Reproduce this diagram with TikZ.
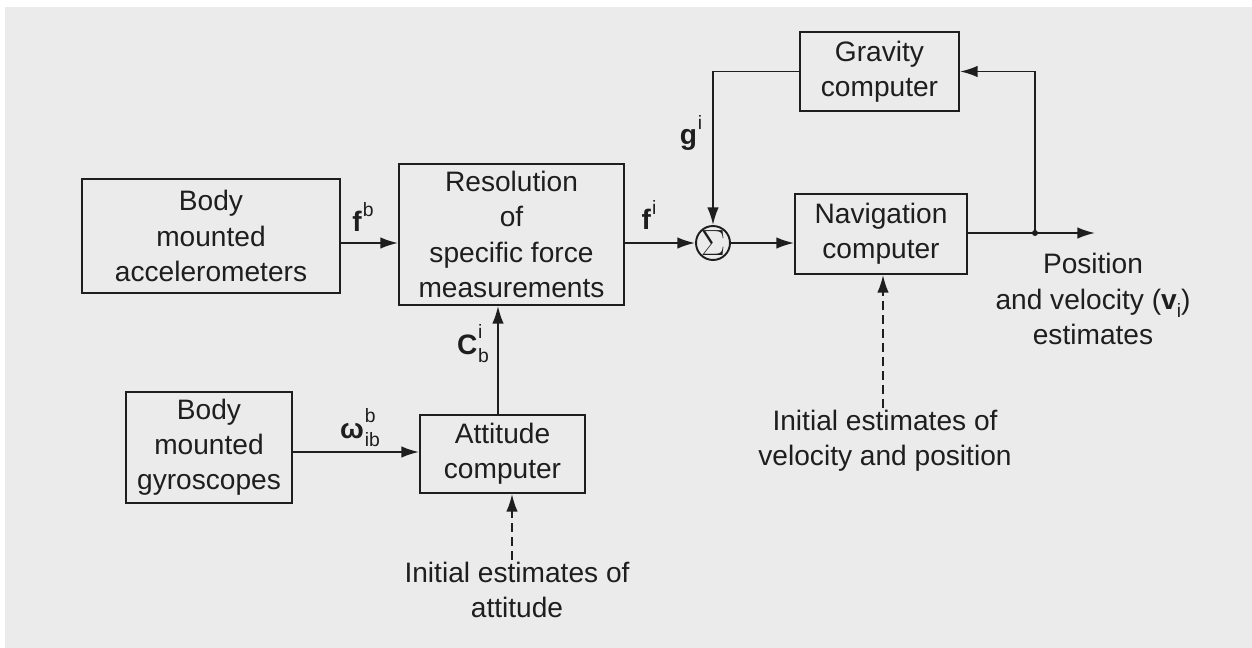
\documentclass[tikz,border=0pt]{standalone}
\usepackage{fontspec}
\setmainfont{Liberation Sans}
\usetikzlibrary{arrows.meta}

\definecolor{paper}{HTML}{EBEBEB}
\definecolor{ink}{HTML}{1E1E1E}

% bold symbol with a superscript, and with both super- and subscript
\newcommand\supidx[2]{\textbf{#1}\kern0.5pt\raisebox{0.5em}{\fontsize{11}{11}\selectfont #2}}
\newcommand\bothidx[3]{\textbf{#1}\kern0.5pt\rlap{\raisebox{0.55em}{\fontsize{11}{11}\selectfont #2}}\raisebox{-0.3em}{\fontsize{11}{11}\selectfont #3}}

\begin{document}
\begin{tikzpicture}[x=0.02cm,y=-0.02cm,
  every node/.style={text=ink},
  blk/.style={draw=ink, line width=1.1pt, inner sep=0pt, align=center,
              font=\fontsize{16}{20}\selectfont},
  lbl/.style={inner sep=1pt, font=\fontsize{16}{20}\selectfont},
  note/.style={align=center, inner sep=1pt, font=\fontsize{16}{20}\selectfont},
  arr/.style={draw=ink, line width=1.1pt, -{Latex[length=10pt,width=6.5pt]}},
  dasharr/.style={arr, dash pattern=on 5pt off 3pt}]

% page
\useasboundingbox (0,0) rectangle (1252,648);
\fill[white] (0,0) rectangle (1252,648);
\fill[paper] (5,7) rectangle (1252,648);

% blocks
\node[blk, minimum width=5.16cm, minimum height=2.28cm] (acc) at (211,236)
  {Body\\mounted\\accelerometers};
\node[blk, minimum width=4.5cm, minimum height=2.82cm] (res) at (511.5,234.5)
  {Resolution\\of\\specific force\\measurements};
\node[blk, minimum width=3.18cm, minimum height=1.58cm] (grav) at (879.5,71.5)
  {Gravity\\computer};
\node[blk, minimum width=3.44cm, minimum height=1.6cm] (nav) at (881,234)
  {Navigation\\computer};
\node[blk, minimum width=3.32cm, minimum height=2.22cm] (gyro) at (209,447.5)
  {Body\\mounted\\gyroscopes};
\node[blk, minimum width=3.3cm, minimum height=1.56cm] (att) at (502.5,454)
  {Attitude\\computer};
% summing junction: fixed size circle with the sigma set on top of it
\node[draw=ink, line width=1.1pt, circle, minimum size=0.68cm, inner sep=0pt] (sum) at (713,243) {};
\node[inner sep=0pt, font=\fontsize{20}{20}\selectfont] (sig) at (sum.center) {$\Sigma$};

% free texts
\node[note] (ia) at (517,590) {Initial estimates of\\attitude};
\node[note] (iv) at (885,441) {Initial estimates of\\velocity and position};
\node[note] (pv) at (1093,299)
  {Position\\and velocity (\textbf{v}\raisebox{-0.3em}{\fontsize{11}{11}\selectfont i})\\estimates};

% signal labels
\node[lbl] (lfb) at (363,217) {\supidx{f}{b}};
\node[lbl] (lfi) at (649,215) {\supidx{f}{i}};
\node[lbl] (lgi) at (691,133) {\supidx{g}{i}};
\node[lbl] (lcb) at (473,344) {\bothidx{C}{i}{b}};
\node[lbl] (lw)  at (360,428) {\bothidx{ω}{b}{ib}};

% output branch points
\coordinate (j) at (1035,233);
\coordinate (out) at (1095,233);

% connectors
\draw[arr] (acc.east |- sum) -- (res.west |- sum);
\draw[arr] (res.east |- sum) -- (sum.west);
\draw[arr] (sum.east) -- (nav.west |- sum);
\draw[arr] (grav.west) -- (sum.center |- grav.west) -- (sum.north);
\draw[arr] (nav.east |- j) -- (out);
\draw[arr] (j) -- (j |- grav.east) -- (grav.east);
\fill[ink] (j) circle (3);
\draw[arr] (gyro.east |- 0,452) -- (att.west |- 0,452);
\draw[arr] ([xshift=-0.09cm]att.north) -- ([xshift=-0.09cm]att.north |- res.south);
\draw[dasharr] ([xshift=-0.1cm]ia.north) -- ([xshift=-0.1cm]ia.north |- att.south);
\draw[dasharr] ([xshift=-0.04cm]iv.north) -- ([xshift=-0.04cm]iv.north |- nav.south);
\end{tikzpicture}
\end{document}
